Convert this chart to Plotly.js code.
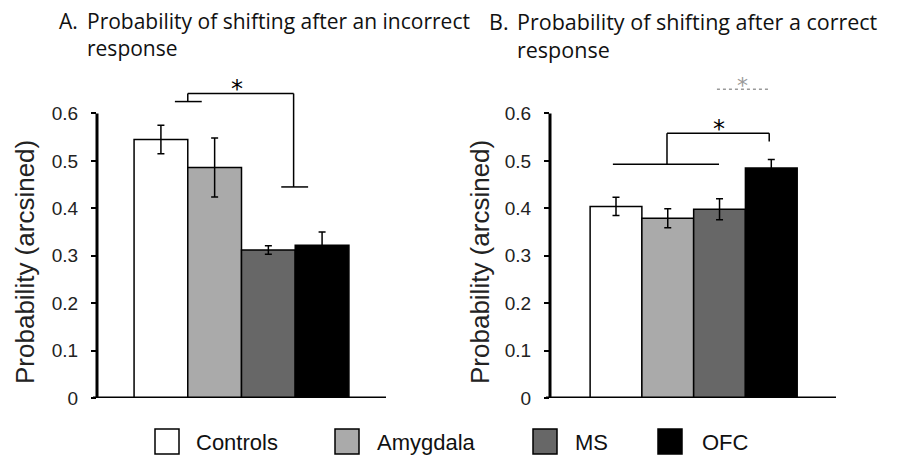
<!DOCTYPE html>
<html>
<head>
<meta charset="utf-8">
<script src="https://cdn.plot.ly/plotly-3.0.1.min.js"></script>
<style>html,body{margin:0;padding:0;background:#fff;}#chart{width:907px;height:458px;}</style>
</head>
<body>
<div id="chart"></div>
<script>
// ---- data ----
const groups = ["Controls", "Amygdala", "MS", "OFC"];
const groupColors = ["#ffffff", "#aaaaaa", "#676767", "#000000"];
const incorrectShift = [0.545, 0.486, 0.312, 0.322];
const incorrectErr = [0.030, 0.062, 0.009, 0.028];
const correctShift = [0.404, 0.379, 0.398, 0.485];
const correctErr = [0.019, 0.020, 0.022, 0.018];
const yTickVals = [0, 0.1, 0.2, 0.3, 0.4, 0.5, 0.6];
const yTickText = ["0", "0.1", "0.2", "0.3", "0.4", "0.5", "0.6"];
const panelTitles = [
  ["A.", "Probability of shifting after an incorrect<br>response"],
  ["B.", "Probability of shifting after a correct<br>response"]
];
const yTitle = "Probability (arcsined)";

const W = 907, H = 458, MT = 75, MB = 60;
const PH = H - MT - MB;
const py = p => (MT + PH - p) / PH;   // pixel row -> paper y
const px = p => p / W;                // pixel column -> paper x

function barTrace(vals, errs, xa, ya) {
  return {
    type: "bar", x: groups, y: vals, xaxis: xa, yaxis: ya,
    width: 1,
    marker: {color: groupColors, line: {color: "#000", width: 1.5}},
    error_y: {type: "data", array: errs, visible: true, color: "#000", thickness: 1.5, width: 3.5},
    showlegend: false, hoverinfo: "x+y"
  };
}

const data = [
  barTrace(incorrectShift, incorrectErr, "x", "y"),
  barTrace(correctShift, correctErr, "x2", "y2")
];

const tickFont = {family: "Liberation Sans, Arial, sans-serif", size: 19, color: "#222"};
function yax(anchor) {
  return {
    anchor: anchor, domain: [0, 1], range: [0, 0.681],
    tickmode: "array", tickvals: yTickVals, ticktext: yTickText,
    ticks: "outside", ticklen: 5, tickwidth: 2, tickcolor: "#000",
    ticklabelstandoff: 9,
    tickfont: tickFont, showgrid: false, zeroline: false, showline: false,
    fixedrange: true
  };
}
function xax(anchor, dom, rng) {
  return {
    anchor: anchor, domain: dom, range: rng, type: "category",
    showticklabels: false, ticks: "", showgrid: false, zeroline: false, showline: false,
    fixedrange: true
  };
}

const black = {color: "#000", width: 1.5};
const shapes = [];
// axis lines
[["x", "y"], ["x2", "y2"]].forEach(([xa, ya]) => {
  shapes.push({type: "line", xref: xa + " domain", yref: ya, x0: -0.014, x1: 1, y0: 0, y1: 0, line: {color: "#000", width: 3}, layer: "above"});
  shapes.push({type: "line", xref: xa + " domain", yref: ya, x0: 0, x1: 0, y0: 0, y1: 0.6, line: {color: "#000", width: 3}, layer: "above"});
});
function seg(xa, ya, x0, y0, x1, y1, line) {
  shapes.push({type: "line", xref: xa, yref: ya, x0: x0, x1: x1, y0: y0, y1: y1, line: line || black});
}
// Panel A brackets
seg("x", "y", 0.26, 0.625, 0.76, 0.625);
seg("x", "y", 0.50, 0.625, 0.50, 0.642);
seg("x", "y", 0.50, 0.642, 2.47, 0.642);
seg("x", "y", 2.47, 0.642, 2.47, 0.445);
seg("x", "y", 2.24, 0.445, 2.74, 0.445);
// Panel B brackets
seg("x2", "y2", -0.06, 0.493, 1.99, 0.493);
seg("x2", "y2", 0.985, 0.493, 0.985, 0.558);
seg("x2", "y2", 0.985, 0.558, 2.96, 0.558);
seg("x2", "y2", 2.96, 0.558, 2.96, 0.541);
seg("x2", "y2", 1.95, 0.651, 2.98, 0.651, {color: "#999", width: 1.5, dash: "dot"});

const annotations = [];
// panel titles
const titleSpecs = [{lx: 57, tx: 85, size: 21}, {lx: 487, tx: 515, size: 21.5}];
titleSpecs.forEach((s, i) => {
  const f = {family: "Open Sans, Noto Sans, sans-serif", size: s.size, color: "#111"};
  annotations.push({xref: "paper", yref: "paper", x: px(s.lx), y: py(5), xanchor: "left", yanchor: "top", text: panelTitles[i][0], showarrow: false, font: f, align: "left"});
  annotations.push({xref: "paper", yref: "paper", x: px(s.tx), y: py(5), xanchor: "left", yanchor: "top", text: panelTitles[i][1], showarrow: false, font: f, align: "left"});
});
// y-axis titles
const yTitleFont = {family: "Liberation Sans, Arial, sans-serif", size: 26, color: "#222"};
[25, 480].forEach(xc => {
  annotations.push({xref: "paper", yref: "paper", x: px(xc), y: py(262), xanchor: "center", yanchor: "middle", text: yTitle, textangle: -90, showarrow: false, font: yTitleFont});
});
// stars
const starFont = {family: "DejaVu Sans, sans-serif", size: 24, color: "#000"};
annotations.push({xref: "x", yref: "y", x: 1.41, y: 0.661, text: "*", showarrow: false, font: starFont, yanchor: "middle", yshift: -5});
annotations.push({xref: "x2", yref: "y2", x: 1.99, y: 0.577, text: "*", showarrow: false, font: starFont, yanchor: "middle", yshift: -5});
annotations.push({xref: "x2", yref: "y2", x: 2.45, y: 0.669, text: "*", showarrow: false, font: Object.assign({}, starFont, {color: "#999", size: 22}), yanchor: "middle", yshift: -5});

// legend (manual, big swatches)
const swatchX = [155, 335, 533, 658];
const textX = [194, 375, 573, 700];
const legendFont = {family: "Liberation Sans, Arial, sans-serif", size: 22, color: "#111"};
groups.forEach((g, i) => {
  shapes.push({type: "rect", xref: "paper", yref: "paper", x0: px(swatchX[i]), x1: px(swatchX[i] + 24), y0: py(454), y1: py(429), fillcolor: groupColors[i], line: {color: "#000", width: 1.5}});
  annotations.push({xref: "paper", yref: "paper", x: px(textX[i]), y: py(442), xanchor: "left", yanchor: "middle", text: g, showarrow: false, font: legendFont});
});

const layout = {
  width: W, height: H,
  margin: {l: 0, r: 0, t: MT, b: MB, pad: 0},
  paper_bgcolor: "#fff", plot_bgcolor: "rgba(0,0,0,0)",
  bargap: 0,
  xaxis: xax("y", [px(97), px(386)], [-1.19, 4.19]),
  yaxis: yax("x"),
  xaxis2: xax("y2", [px(550), px(836)], [-1.275, 4.25]),
  yaxis2: yax("x2"),
  shapes: shapes,
  annotations: annotations,
  showlegend: false
};

Plotly.newPlot("chart", data, layout, {displayModeBar: false, staticPlot: true});
</script>
</body>
</html>
